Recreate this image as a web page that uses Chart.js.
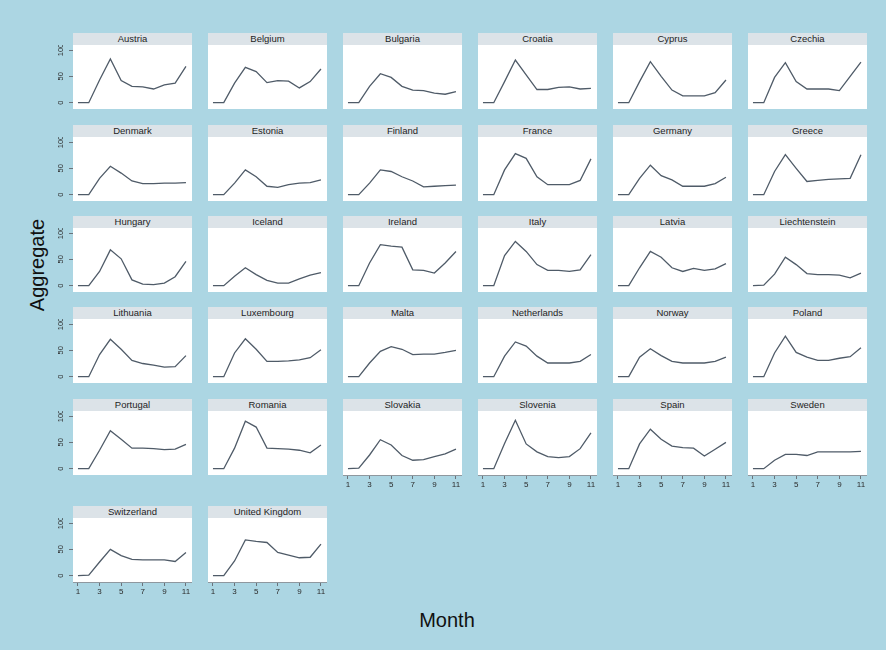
<!DOCTYPE html>
<html>
<head>
<meta charset="utf-8">
<script src="https://cdn.jsdelivr.net/npm/chart.js@4.4.1/dist/chart.umd.min.js"></script>
<style>
  html, body { margin: 0; padding: 0; }
  body {
    width: 886px; height: 650px; position: relative; overflow: hidden;
    background: #acd6e3;
    font-family: 'Liberation Sans', Arial, sans-serif;
  }
  .strip {
    position: absolute; background: #dce3e8; color: #1e1e1e;
    font-size: 9.5px; text-align: center; white-space: nowrap;
  }
  .plotbg { position: absolute; background: #fff; }
  canvas { position: absolute; }
  .axis-title { position: absolute; font-size: 20px; color: #111; white-space: nowrap; }
</style>
</head>
<body>
<div class="axis-title" style="left:37px; top:265px; transform: translate(-50%, -50%) rotate(-90deg);">Aggregate</div>
<div class="axis-title" style="left:447px; top:620px; transform: translate(-50%, -50%);">Month</div>
<script>
const MONTHS = [1, 2, 3, 4, 5, 6, 7, 8, 9, 10, 11]
const X_TICKS = [1, 3, 5, 7, 9, 11]
const Y_TICKS = [0, 50, 100]

const COUNTRIES = [
  'Austria', 'Belgium', 'Bulgaria', 'Croatia', 'Cyprus', 'Czechia',
  'Denmark', 'Estonia', 'Finland', 'France', 'Germany', 'Greece',
  'Hungary', 'Iceland', 'Ireland', 'Italy', 'Latvia', 'Liechtenstein',
  'Lithuania', 'Luxembourg', 'Malta', 'Netherlands', 'Norway', 'Poland',
  'Portugal', 'Romania', 'Slovakia', 'Slovenia', 'Spain', 'Sweden',
  'Switzerland', 'United Kingdom'
]

// aggregate per month
const austria = [0, 0, 43, 83, 42, 31, 30, 26, 34, 37, 69]
const belgium = [0, 0, 37, 67, 59, 38, 42, 41, 28, 40, 64]
const bulgaria = [0, 0, 31, 55, 48, 31, 24, 23, 18, 16, 21]
const croatia = [0, 0, 40, 81, 53, 25, 25, 29, 30, 26, 27]
const cyprus = [0, 0, 40, 78, 50, 24, 13, 13, 13, 19, 43]
const czechia = [0, 0, 48, 76, 40, 26, 26, 26, 23, 50, 77]
const denmark = [0, 0, 31, 54, 41, 26, 21, 21, 22, 22, 23]
const estonia = [0, 0, 22, 47, 34, 16, 14, 19, 22, 23, 28]
const finland = [0, 0, 22, 47, 44, 34, 26, 15, 16, 17, 18]
const france = [0, 0, 47, 78, 69, 34, 19, 19, 19, 27, 68]
const germany = [0, 0, 31, 56, 36, 28, 16, 16, 16, 21, 33]
const greece = [0, 0, 44, 76, 50, 25, 27, 29, 30, 31, 76]
const hungary = [0, 0, 27, 68, 51, 11, 3, 2, 5, 17, 46]
const iceland = [0, 0, 18, 34, 21, 10, 5, 5, 13, 20, 25]
const ireland = [0, 0, 43, 78, 75, 73, 30, 29, 24, 43, 65]
const italy = [0, 0, 57, 84, 65, 40, 29, 29, 27, 30, 59]
const latvia = [0, 0, 34, 65, 54, 34, 27, 33, 29, 32, 42]
const liechtenstein = [0, 1, 22, 54, 40, 23, 21, 21, 20, 15, 24]
const lithuania = [0, 0, 42, 71, 52, 31, 25, 22, 18, 19, 40]
const luxembourg = [0, 0, 45, 72, 52, 29, 29, 30, 32, 36, 51]
const malta = [0, 0, 26, 48, 57, 52, 42, 43, 43, 46, 50]
const netherlands = [0, 0, 39, 66, 58, 39, 26, 26, 26, 29, 42]
const norway = [0, 0, 37, 53, 40, 29, 26, 26, 26, 29, 37]
const poland = [0, 0, 45, 77, 46, 37, 31, 31, 35, 38, 55]
const portugal = [0, 0, 35, 72, 56, 39, 39, 38, 36, 37, 46]
const romania = [0, 0, 39, 90, 79, 39, 38, 37, 35, 30, 45]
const slovakia = [0, 1, 26, 55, 45, 25, 16, 17, 23, 28, 37]
const slovenia = [0, 0, 48, 92, 47, 32, 23, 21, 23, 38, 68]
const spain = [0, 0, 47, 75, 56, 43, 40, 39, 24, 37, 50]
const sweden = [0, 0, 16, 27, 27, 25, 32, 32, 32, 32, 33]
const switzerland = [0, 1, 26, 50, 38, 31, 30, 30, 30, 27, 44]
const unitedKingdom = [0, 0, 28, 68, 65, 63, 44, 39, 34, 35, 60]

const SERIES = [
  austria, belgium, bulgaria, croatia, cyprus, czechia,
  denmark, estonia, finland, france, germany, greece,
  hungary, iceland, ireland, italy, latvia, liechtenstein,
  lithuania, luxembourg, malta, netherlands, norway, poland,
  portugal, romania, slovakia, slovenia, spain, sweden,
  switzerland, unitedKingdom
]

// panel layout (px)
const COLS = 6
const LEFT0 = 73
const COL_STEP = 135
const ROW_TOPS = [33, 125, 216, 307, 399, 506]
const PANEL_W = 119
const STRIP_H = 12
const PLOT_H = 64
const Y_AXIS_W = 24
const X_AXIS_H = 18

const FONT = 'Liberation Sans, Arial, sans-serif'
const LINE_COLOR = '#4f5b68'

// stata-style vertical y labels
const yLabelPlugin = {
  id: 'yLabels',
  afterDraw(chart) {
    const y = chart.scales.y
    if (!y.options.display) return
    const ctx = chart.ctx
    ctx.save()
    ctx.fillStyle = '#2a2a2a'
    ctx.font = '7.5px ' + FONT
    ctx.textAlign = 'center'
    ctx.textBaseline = 'middle'
    Y_TICKS.forEach(v => {
      ctx.save()
      ctx.translate(chart.chartArea.left - 12, y.getPixelForValue(v))
      ctx.rotate(-Math.PI / 2)
      ctx.fillText(String(v), 0, 0)
      ctx.restore()
    })
    ctx.restore()
  }
}

COUNTRIES.forEach((name, i) => {
  const col = i % COLS
  const row = Math.floor(i / COLS)
  const left = LEFT0 + COL_STEP * col
  const top = ROW_TOPS[row]
  const hasY = col === 0
  const hasX = i + COLS >= COUNTRIES.length

  const strip = document.createElement('div')
  strip.className = 'strip'
  strip.style.cssText = `left:${left}px;top:${top}px;width:${PANEL_W}px;height:${STRIP_H}px;line-height:${STRIP_H}px;`
  strip.textContent = name
  document.body.appendChild(strip)

  const bg = document.createElement('div')
  bg.className = 'plotbg'
  bg.style.cssText = `left:${left}px;top:${top + STRIP_H}px;width:${PANEL_W}px;height:${PLOT_H}px;`
  document.body.appendChild(bg)

  const canvas = document.createElement('canvas')
  const cw = PANEL_W + (hasY ? Y_AXIS_W : 0)
  const ch = PLOT_H + (hasX ? X_AXIS_H : 0)
  canvas.width = cw
  canvas.height = ch
  canvas.style.cssText = `left:${left - (hasY ? Y_AXIS_W : 0)}px;top:${top + STRIP_H}px;width:${cw}px;height:${ch}px;`
  document.body.appendChild(canvas)

  new Chart(canvas, {
    type: 'line',
    data: {
      datasets: [{
        data: MONTHS.map((m, k) => ({ x: m, y: SERIES[i][k] })),
        borderColor: LINE_COLOR,
        borderWidth: 1.3,
        pointRadius: 0,
        tension: 0,
        fill: false
      }]
    },
    options: {
      responsive: false,
      animation: false,
      events: [],
      layout: { padding: 0 },
      plugins: { legend: { display: false }, tooltip: { enabled: false } },
      scales: {
        x: {
          type: 'linear',
          display: hasX,
          min: 0.54,
          max: 11.56,
          afterBuildTicks: s => { s.ticks = X_TICKS.map(v => ({ value: v })) },
          afterFit: s => { s.height = hasX ? X_AXIS_H : 0 },
          grid: { drawOnChartArea: false, drawTicks: true, tickLength: 4, color: '#6a737b' },
          border: { display: true, color: '#8f989f' },
          ticks: { autoSkip: false, maxRotation: 0, padding: 1, color: '#2a2a2a', font: { family: FONT, size: 8 } }
        },
        y: {
          type: 'linear',
          display: hasY,
          min: -12,
          max: 109.5,
          afterBuildTicks: s => { s.ticks = Y_TICKS.map(v => ({ value: v })) },
          afterFit: s => { s.width = hasY ? Y_AXIS_W : 0 },
          grid: { drawOnChartArea: false, drawTicks: true, tickLength: 4, color: '#6a737b' },
          border: { display: false },
          ticks: { display: false }
        }
      }
    },
    plugins: [yLabelPlugin]
  })
})
</script>
</body>
</html>
